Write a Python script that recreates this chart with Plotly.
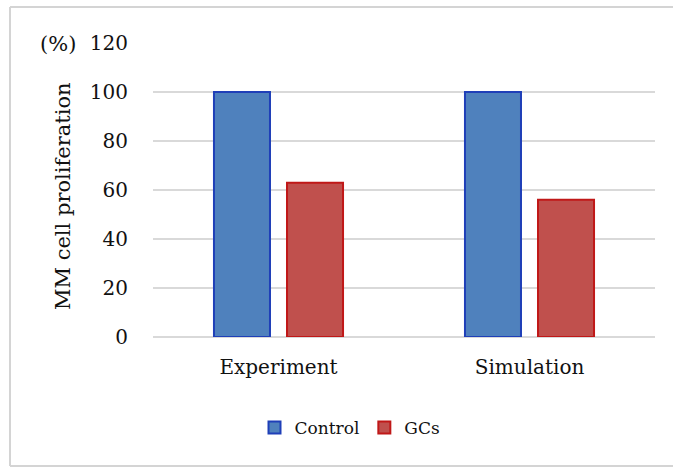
import plotly.graph_objects as go

categories = ["Experiment", "Simulation"]
control = [100, 100]
gcs = [63, 56]
y_ticks = [0, 20, 40, 60, 80, 100, 120]

W, H = 673, 469
L, R, T, B = 153, 18, 43, 132
pw, ph = W - L - R, H - T - B

def px(x):
    return (x - L) / pw

def py(y):
    return (H - B - y) / ph

FONT = "DejaVu Serif"

fig = go.Figure()
fig.add_trace(go.Bar(name="Control", x=categories, y=control,
                     marker=dict(color="#4f81bd", line=dict(color="#1f3fb8", width=2))))
fig.add_trace(go.Bar(name="GCs", x=categories, y=gcs,
                     marker=dict(color="#c0504d", line=dict(color="#c01818", width=2))))

fig.update_layout(
    width=W, height=H,
    margin=dict(l=L, r=R, t=T, b=B),
    paper_bgcolor="white", plot_bgcolor="white",
    barmode="group", bargap=0.418, bargroupgap=0.233,
    font=dict(family=FONT, color="#111111", size=20),
    xaxis=dict(showgrid=False, showline=False, ticks="", ticklabelstandoff=16,
               tickfont=dict(size=20, family=FONT, color="#111111")),
    yaxis=dict(range=[0, 120], tickvals=y_ticks, showgrid=True, gridcolor="#d9d9d9",
               gridwidth=1.5, zeroline=True, zerolinecolor="#d9d9d9", zerolinewidth=1.5,
               showline=False, ticks="", ticklabelstandoff=24,
               tickfont=dict(size=20, family=FONT, color="#111111")),
    legend=dict(orientation="h", x=px(350), xanchor="center", y=py(428), yanchor="middle",
                font=dict(size=17, family=FONT, color="#111111"),
                itemwidth=30, bgcolor="rgba(0,0,0,0)"),
    showlegend=True,
)

fig.add_annotation(text="MM cell proliferation", xref="paper", yref="paper",
                   x=px(63), y=py(196), textangle=-90, showarrow=False,
                   font=dict(size=21, family=FONT, color="#111111"),
                   xanchor="center", yanchor="middle")
fig.add_annotation(text="(%)", xref="paper", yref="paper",
                   x=px(58), y=py(44), showarrow=False,
                   font=dict(size=21, family=FONT, color="#111111"),
                   xanchor="center", yanchor="middle")

frame = dict(color="#d4d4d4", width=2)
fig.add_shape(type="line", xref="paper", yref="paper",
              x0=px(10), x1=px(10), y0=py(466), y1=py(7), line=frame, layer="below")
fig.add_shape(type="line", xref="paper", yref="paper",
              x0=px(10), x1=px(673), y0=py(7), y1=py(7), line=frame, layer="below")
fig.add_shape(type="line", xref="paper", yref="paper",
              x0=px(10), x1=px(673), y0=py(466), y1=py(466), line=frame, layer="below")

fig.write_html("out.html")
